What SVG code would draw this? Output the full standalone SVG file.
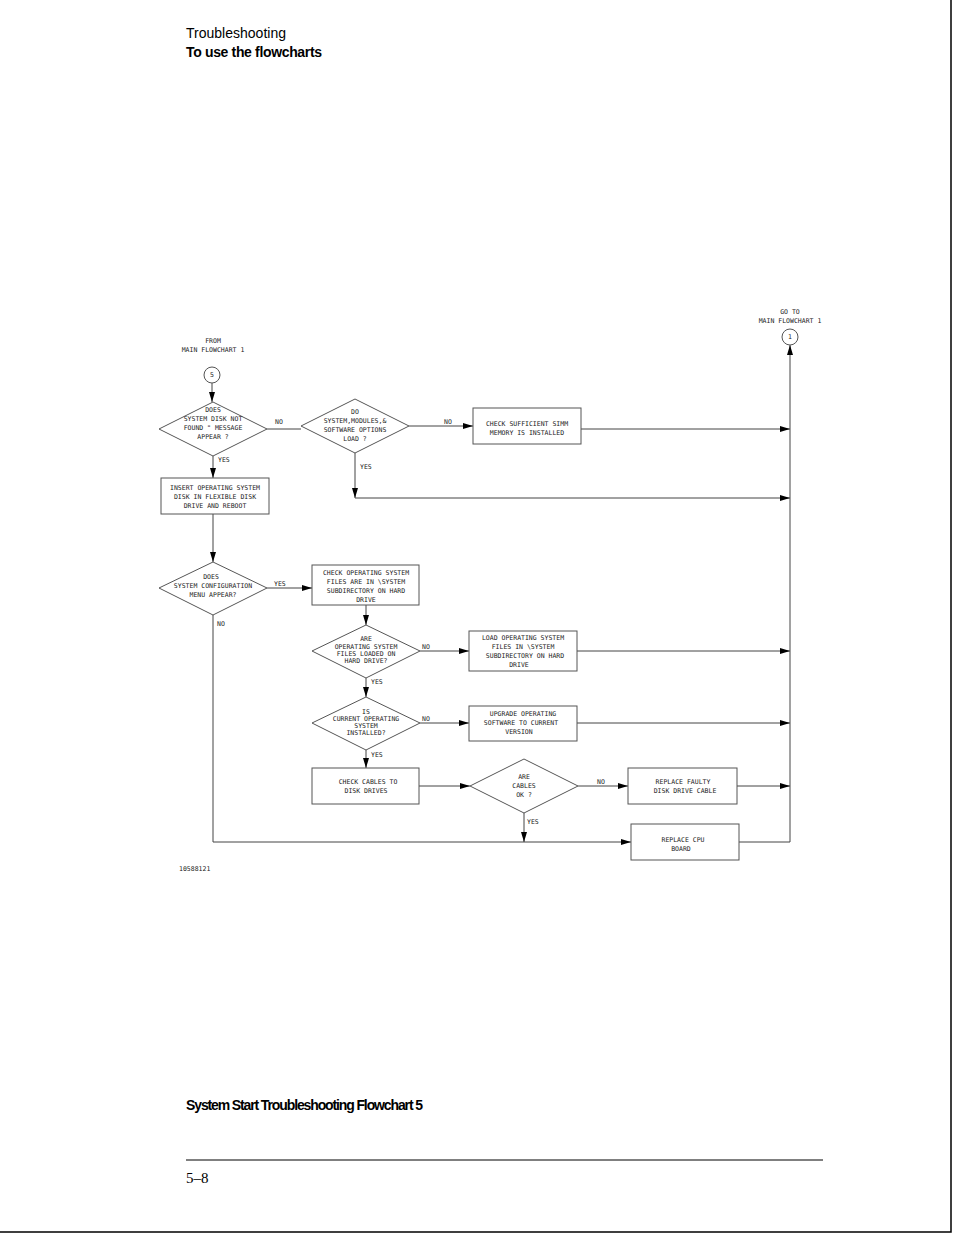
<svg xmlns="http://www.w3.org/2000/svg" width="954" height="1235" viewBox="0 0 954 1235">
<defs>
<marker id="ar" viewBox="0 0 10 6" refX="10" refY="3" markerWidth="10" markerHeight="6" markerUnits="userSpaceOnUse" orient="auto"><path d="M0,0L10,3L0,6z" fill="#000"/></marker>
<style>
.n{fill:#fff;stroke:#555;stroke-width:1}
.c{fill:none;stroke:#444;stroke-width:1}
.a{marker-end:url(#ar)}
.t{font-family:"DejaVu Sans Mono","Liberation Mono",monospace;font-size:6.5px;fill:#222;text-anchor:middle}
.l{font-family:"DejaVu Sans Mono","Liberation Mono",monospace;font-size:6.5px;fill:#222}
.h{font-family:"Liberation Sans",sans-serif;font-size:14px;fill:#000}
</style>
</defs>
<rect width="954" height="1235" fill="#fff"/>
<path d="M951,0V1232H0" fill="none" stroke="#000" stroke-width="1.5"/>
<text class="h" x="186" y="38" textLength="100">Troubleshooting</text>
<text class="h" x="186" y="57" font-weight="bold" textLength="136">To use the flowcharts</text>
<text class="h" x="186" y="1110" font-weight="bold" font-size="13" textLength="237">System Start Troubleshooting Flowchart 5</text>
<line x1="186" y1="1160" x2="823" y2="1160" stroke="#000"/>
<text x="186" y="1183" font-family="Liberation Serif,serif" font-size="15">5–8</text>
<text class="l" x="179" y="871" font-size="5">10588121</text>

<g id="connectors">
<path class="c a" d="M212,383V402"/>
<path class="c" d="M267,429H301"/>
<path class="c a" d="M409,426H473"/>
<path class="c a" d="M581,429H790"/>
<path class="c a" d="M355,453V498"/>
<path class="c a" d="M355,498H790"/>
<path class="c a" d="M213,456V478"/>
<path class="c a" d="M213,514V562"/>
<path class="c a" d="M267,588H312"/>
<path class="c a" d="M213,615V842H631"/>
<path class="c a" d="M366,605V625"/>
<path class="c a" d="M420,651H469"/>
<path class="c a" d="M577,651H790"/>
<path class="c a" d="M366,678V697"/>
<path class="c a" d="M420,723H469"/>
<path class="c a" d="M577,723H790"/>
<path class="c a" d="M366,750V768"/>
<path class="c a" d="M419,786H470"/>
<path class="c a" d="M578,786H628"/>
<path class="c a" d="M737,786H790"/>
<path class="c a" d="M524,813V842"/>
<path class="c a" d="M739,842H790V345"/>
<text class="l" x="275" y="424">NO</text>
<text class="l" x="444" y="424">NO</text>
<text class="l" x="360" y="469">YES</text>
<text class="l" x="218" y="462">YES</text>
<text class="l" x="274" y="586">YES</text>
<text class="l" x="217" y="626">NO</text>
<text class="l" x="422" y="649">NO</text>
<text class="l" x="371" y="684">YES</text>
<text class="l" x="422" y="721">NO</text>
<text class="l" x="371" y="757">YES</text>
<text class="l" x="597" y="784">NO</text>
<text class="l" x="527" y="824">YES</text>
</g>

<g id="from"><text class="t" x="213" y="343">FROM</text><text class="t" x="213" y="352">MAIN FLOWCHART 1</text><circle class="n" cx="212" cy="375" r="8"/><text class="t" x="212" y="377">5</text></g>
<g id="goto"><text class="t" x="790" y="314">GO TO</text><text class="t" x="790" y="323">MAIN FLOWCHART 1</text><circle class="n" cx="790" cy="337" r="8"/><text class="t" x="790" y="339">1</text></g>

<g id="d1"><path class="n" d="M213,402L267,429L213,456L159,429z"/><text class="t" x="213" y="412">DOES</text><text class="t" x="213" y="421">SYSTEM DISK NOT</text><text class="t" x="213" y="430">FOUND " MESSAGE</text><text class="t" x="213" y="439">APPEAR ?</text></g>
<g id="d2"><path class="n" d="M355,399L409,426L355,453L301,426z"/><text class="t" x="355" y="414">DO</text><text class="t" x="355" y="423">SYSTEM,MODULES,&amp;</text><text class="t" x="355" y="432">SOFTWARE OPTIONS</text><text class="t" x="355" y="441">LOAD ?</text></g>
<g id="simm"><rect class="n" x="473" y="408" width="108" height="36"/><text class="t" x="527" y="426">CHECK SUFFICIENT SIMM</text><text class="t" x="527" y="435">MEMORY IS INSTALLED</text></g>
<g id="insert"><rect class="n" x="161" y="478" width="108" height="36"/><text class="t" x="215" y="490">INSERT OPERATING SYSTEM</text><text class="t" x="215" y="499">DISK IN FLEXIBLE DISK</text><text class="t" x="215" y="508">DRIVE AND REBOOT</text></g>
<g id="d3"><path class="n" d="M213,562L267,588L213,615L159,588z"/><text class="t" x="211" y="579">DOES</text><text class="t" x="213" y="588">SYSTEM CONFIGURATION</text><text class="t" x="213" y="597">MENU APPEAR?</text></g>
<g id="checkos"><rect class="n" x="312" y="565" width="107" height="40"/><text class="t" x="366" y="575">CHECK OPERATING SYSTEM</text><text class="t" x="366" y="584">FILES ARE IN \SYSTEM</text><text class="t" x="366" y="593">SUBDIRECTORY ON HARD</text><text class="t" x="366" y="602">DRIVE</text></g>
<g id="d4"><path class="n" d="M366,625L420,651L366,678L312,651z"/><text class="t" x="366" y="641">ARE</text><text class="t" x="366" y="649">OPERATING SYSTEM</text><text class="t" x="366" y="656">FILES LOADED ON</text><text class="t" x="366" y="663">HARD DRIVE?</text></g>
<g id="load"><rect class="n" x="469" y="631" width="108" height="40"/><text class="t" x="523" y="640">LOAD OPERATING SYSTEM</text><text class="t" x="523" y="649">FILES IN \SYSTEM</text><text class="t" x="525" y="658">SUBDIRECTORY ON HARD</text><text class="t" x="519" y="667">DRIVE</text></g>
<g id="d5"><path class="n" d="M366,697L420,723L366,750L312,723z"/><text class="t" x="366" y="714">IS</text><text class="t" x="366" y="721">CURRENT OPERATING</text><text class="t" x="366" y="728">SYSTEM</text><text class="t" x="366" y="735">INSTALLED?</text></g>
<g id="upgrade"><rect class="n" x="469" y="706" width="108" height="35"/><text class="t" x="523" y="716">UPGRADE OPERATING</text><text class="t" x="521" y="725">SOFTWARE TO CURRENT</text><text class="t" x="519" y="734">VERSION</text></g>
<g id="cables"><rect class="n" x="312" y="768" width="107" height="36"/><text class="t" x="368" y="784">CHECK CABLES TO</text><text class="t" x="366" y="793">DISK DRIVES</text></g>
<g id="d6"><path class="n" d="M524,759L578,786L524,813L470,786z"/><text class="t" x="524" y="779">ARE</text><text class="t" x="524" y="788">CABLES</text><text class="t" x="524" y="797">OK ?</text></g>
<g id="faulty"><rect class="n" x="628" y="768" width="109" height="36"/><text class="t" x="683" y="784">REPLACE FAULTY</text><text class="t" x="685" y="793">DISK DRIVE CABLE</text></g>
<g id="cpu"><rect class="n" x="631" y="824" width="108" height="36"/><text class="t" x="683" y="842">REPLACE CPU</text><text class="t" x="681" y="851">BOARD</text></g>
</svg>
